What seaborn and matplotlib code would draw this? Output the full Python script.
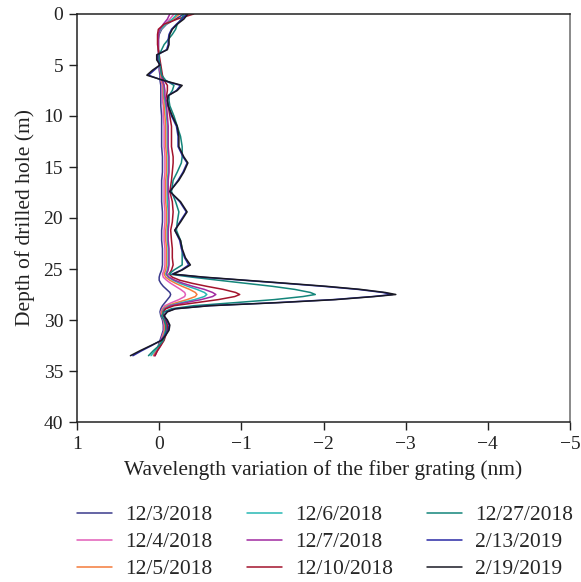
import numpy as np
import pandas as pd
import matplotlib
matplotlib.use("Agg")
import matplotlib.pyplot as plt
import seaborn as sns

# ---- data ----
depth = [0, 0.5, 1, 1.5, 2, 2.5, 3, 3.5, 4,
         4.5, 5, 5.5, 6, 6.5, 7, 7.5, 8, 8.5,
         9, 10, 11, 12, 13, 14,
         14.6, 15.5, 16.3, 17.4, 18.4, 19.4, 20.4, 21.2, 22.2, 23, 23.9, 24.6, 25.1, 25.5,
         25.8, 26.1, 26.4, 26.7, 27.0, 27.3, 27.5, 27.7, 28.0, 28.3, 28.6, 28.9, 29.2,
         29.6, 30, 30.5, 31, 31.5, 32, 32.5, 33, 33.5]

dates = ["12/3/2018", "12/4/2018", "12/5/2018", "12/6/2018", "12/7/2018",
         "12/10/2018", "12/27/2018", "2/13/2019", "2/19/2019"]

v_1203 = [-0.30, -0.20, -0.09, -0.03, 0.0, 0.01, 0.01, 0.01, 0.01,
          0.01, 0.0, 0.0, -0.01, -0.01, -0.02, -0.02, -0.02, -0.02,
          -0.02, -0.03, -0.03, -0.03, -0.03, -0.04,
          -0.04, -0.04, -0.03, -0.03, -0.03, -0.04, -0.04, -0.03, -0.03, -0.04, -0.04, -0.04, -0.03, -0.01,
          0.0, 0.0, -0.02, -0.05, -0.09, -0.13, -0.14, -0.13, -0.10, -0.07, -0.04, -0.02, -0.01,
          -0.02, -0.04, -0.05, -0.05, -0.03, -0.01, 0.01, 0.03, 0.05]
v_1204 = [-0.18, -0.13, -0.07, -0.02, 0.01, 0.01, 0.01, 0.01, 0.01,
          0.0, -0.01, -0.01, -0.02, -0.02, -0.04, -0.04, -0.04, -0.04,
          -0.05, -0.05, -0.06, -0.06, -0.06, -0.07,
          -0.07, -0.07, -0.06, -0.06, -0.06, -0.07, -0.07, -0.06, -0.06, -0.07, -0.07, -0.07, -0.06, -0.04,
          -0.05, -0.09, -0.14, -0.20, -0.26, -0.31, -0.32, -0.31, -0.24, -0.15, -0.07, -0.04, -0.02,
          -0.03, -0.05, -0.06, -0.06, -0.04, -0.02, 0.0, 0.03, 0.06]
v_1205 = [-0.25, -0.17, -0.08, -0.02, 0.01, 0.01, 0.01, 0.01, 0.0,
          0.0, -0.01, -0.02, -0.02, -0.03, -0.05, -0.05, -0.05, -0.06,
          -0.06, -0.07, -0.08, -0.08, -0.08, -0.09,
          -0.09, -0.09, -0.08, -0.08, -0.08, -0.09, -0.09, -0.08, -0.08, -0.09, -0.09, -0.09, -0.08, -0.06,
          -0.08, -0.13, -0.20, -0.28, -0.37, -0.44, -0.46, -0.44, -0.34, -0.21, -0.10, -0.05, -0.03,
          -0.04, -0.06, -0.07, -0.07, -0.05, -0.03, 0.0, 0.04, 0.07]
v_1206 = [-0.22, -0.16, -0.08, -0.02, 0.01, 0.01, 0.01, 0.01, 0.0,
          0.0, -0.01, -0.02, -0.03, -0.04, -0.06, -0.06, -0.06, -0.07,
          -0.08, -0.09, -0.10, -0.10, -0.10, -0.11,
          -0.11, -0.11, -0.10, -0.10, -0.10, -0.11, -0.11, -0.10, -0.10, -0.11, -0.11, -0.11, -0.10, -0.08,
          -0.11, -0.17, -0.25, -0.35, -0.46, -0.55, -0.58, -0.55, -0.43, -0.27, -0.12, -0.06, -0.04,
          -0.05, -0.07, -0.08, -0.08, -0.06, -0.04, 0.0, 0.05, 0.10]
v_1207 = [-0.13, -0.10, -0.05, -0.01, 0.01, 0.01, 0.01, 0.01, 0.0,
          0.0, -0.01, -0.02, -0.03, -0.04, -0.06, -0.07, -0.07, -0.08,
          -0.09, -0.10, -0.11, -0.11, -0.11, -0.12,
          -0.12, -0.12, -0.11, -0.11, -0.12, -0.12, -0.12, -0.11, -0.11, -0.12, -0.12, -0.12, -0.11, -0.09,
          -0.12, -0.19, -0.29, -0.41, -0.55, -0.65, -0.69, -0.65, -0.51, -0.32, -0.14, -0.07, -0.05,
          -0.06, -0.08, -0.09, -0.09, -0.07, -0.05, -0.02, 0.02, 0.06]
v_1210 = [-0.42, -0.22, -0.06, 0.01, 0.02, 0.02, 0.02, 0.01, 0.0,
          -0.01, -0.02, -0.03, -0.04, -0.06, -0.10, -0.10, -0.09, -0.10,
          -0.11, -0.13, -0.15, -0.15, -0.15, -0.17,
          -0.17, -0.16, -0.15, -0.13, -0.16, -0.17, -0.16, -0.14, -0.15, -0.16, -0.16, -0.17, -0.15, -0.12,
          -0.16, -0.25, -0.40, -0.58, -0.78, -0.93, -0.98, -0.92, -0.72, -0.45, -0.18, -0.08, -0.05,
          -0.06, -0.08, -0.10, -0.10, -0.08, -0.06, -0.02, 0.02, 0.05]
v_1227 = [-0.30, -0.27, -0.22, -0.20, -0.16, -0.11, -0.06, -0.03, 0.00,
          0.00, -0.01, -0.02, -0.03, -0.08, -0.18, -0.16, -0.12, -0.12,
          -0.13, -0.18, -0.22, -0.26, -0.28, -0.28,
          -0.27, -0.22, -0.17, -0.15, -0.20, -0.24, -0.22, -0.21, -0.26, -0.28, -0.28, -0.28, -0.18, -0.12,
          -0.40, -0.72, -1.05, -1.38, -1.65, -1.84, -1.90, -1.75, -1.40, -0.92, -0.42, -0.15, -0.06,
          -0.03, -0.06, -0.08, -0.08, -0.07, -0.05, 0.00, 0.07, 0.13]
v_0213 = [-0.33, -0.28, -0.21, -0.15, -0.12, -0.11, -0.11, -0.09, 0.02,
          0.02, -0.01, 0.06, 0.13, -0.04, -0.26, -0.21, -0.11, -0.10,
          -0.11, -0.15, -0.21, -0.23, -0.23, -0.29,
          -0.34, -0.29, -0.23, -0.13, -0.25, -0.33, -0.25, -0.19, -0.25, -0.27, -0.31, -0.36, -0.27, -0.16,
          -0.52, -1.02, -1.52, -2.00, -2.42, -2.72, -2.84, -2.60, -2.12, -1.42, -0.60, -0.19, -0.09,
          -0.06, -0.09, -0.12, -0.11, -0.07, -0.02, 0.09, 0.21, 0.32]
v_0219 = [-0.35, -0.30, -0.22, -0.16, -0.13, -0.12, -0.12, -0.10, 0.03,
          0.03, -0.01, 0.08, 0.15, -0.05, -0.28, -0.22, -0.11, -0.10,
          -0.11, -0.16, -0.22, -0.24, -0.24, -0.30,
          -0.35, -0.30, -0.24, -0.13, -0.26, -0.34, -0.26, -0.19, -0.26, -0.28, -0.32, -0.38, -0.28, -0.17,
          -0.55, -1.05, -1.55, -2.04, -2.45, -2.75, -2.88, -2.62, -2.15, -1.45, -0.62, -0.20, -0.10,
          -0.06, -0.10, -0.13, -0.12, -0.08, -0.03, 0.10, 0.23, 0.35]

series = [v_1203, v_1204, v_1205, v_1206, v_1207, v_1210, v_1227, v_0213, v_0219]

x_ticks = [1, 0, -1, -2, -3, -4, -5]
y_ticks = [0, 5, 10, 15, 20, 25, 30, 35, 40]

colors = ["#3a3a8c", "#e25cb8", "#f47a3a", "#27b8b4", "#a02aa0",
          "#a3142c", "#14857a", "#2a2aa6", "#1a1a24"]

rows = []
for d, vals in zip(dates, series):
    for z, v in zip(depth, vals):
        rows.append({"date": d, "depth": z, "val": v})
df = pd.DataFrame(rows)

# ---- style ----
sns.set_style("ticks")
plt.rcParams["font.family"] = ["Liberation Serif", "DejaVu Serif"]
plt.rcParams["axes.unicode_minus"] = True
TICK_FS = 14
LAB_FS = 15.5

fig = plt.figure(figsize=(5.81, 5.82), dpi=100)
ax = fig.add_axes([77 / 581, 1 - 422 / 582, (570 - 77) / 581, (422 - 14) / 582])

sns.lineplot(data=df, x="val", y="depth", hue="date", hue_order=dates,
             palette=colors, sort=False, estimator=None, linewidth=1.1, ax=ax)

for ln in ax.lines:
    ln.set_solid_joinstyle("round")
    ln.set_solid_capstyle("round")
    if ln.get_label() == "2/19/2019":
        ln.set_linewidth(1.7)

handles, labels = ax.get_legend_handles_labels()
if ax.get_legend() is not None:
    ax.get_legend().remove()

ax.set_xlim(1, -5)
ax.set_ylim(40, 0)
ax.set_xticks(x_ticks)
ax.set_yticks(y_ticks)
ax.tick_params(axis="both", direction="out", length=6, width=1, labelsize=TICK_FS,
               colors="#222222", top=False, right=False, pad=4)
for s in ax.spines.values():
    s.set_linewidth(1.1)
    s.set_color("#222222")
ax.spines["right"].set_color("#6a6a6a")

ax.set_xlabel("Wavelength variation of the fiber grating (nm)", fontsize=LAB_FS,
              color="#222222", labelpad=5)
ax.set_ylabel("Depth of drilled hole (m)", fontsize=LAB_FS, color="#222222", labelpad=6)

for h in handles:
    h.set_linewidth(1.1)

fig.legend(handles, labels, ncol=3, loc="upper left",
           bbox_to_anchor=(77 / 581, 1 - 505 / 582), bbox_transform=fig.transFigure,
           frameon=False, fontsize=LAB_FS, handlelength=1.63, handletextpad=0.6,
           columnspacing=1.6, labelspacing=0.33, borderpad=0, borderaxespad=0)

fig.savefig("out.png", dpi=100)
